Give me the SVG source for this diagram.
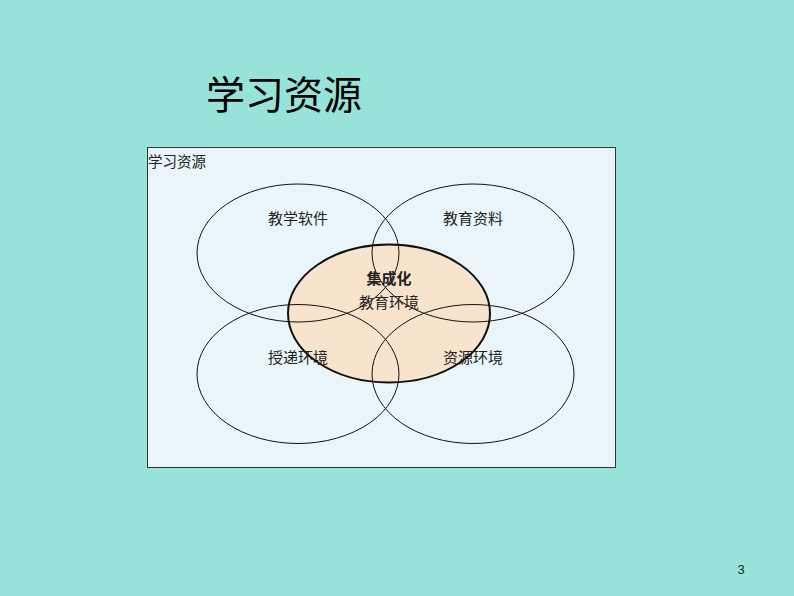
<svg xmlns="http://www.w3.org/2000/svg" width="794" height="596" viewBox="0 0 794 596">
<style>
.lbl{font-family:"Liberation Serif","Noto Sans CJK SC",serif;font-size:15px;fill:#222;text-anchor:middle}
.ring{fill:none;stroke:#111;stroke-width:1}
</style>
<rect x="0" y="0" width="794" height="596" fill="#97E3D9"/>
<text x="206" y="109" font-family="'Noto Sans CJK SC',sans-serif" font-size="39" fill="#000">学习资源</text>
<g id="frame">
<rect x="147.5" y="147.5" width="468" height="320" fill="#E9F5F8" stroke="#333" stroke-width="1"/>
<text x="148" y="167" font-family="'Liberation Serif','Noto Sans CJK SC',serif" font-size="14.5" fill="#222">学习资源</text>
</g>
<g id="center-fill">
<ellipse cx="389" cy="313.5" rx="101" ry="69" fill="#F8E3CC"/>
</g>
<g id="connectors"></g>
<g id="n-software"><ellipse class="ring" cx="298" cy="253" rx="101" ry="69"/><text class="lbl" x="298" y="224">教学软件</text></g>
<g id="n-materials"><ellipse class="ring" cx="473" cy="253" rx="101" ry="69"/><text class="lbl" x="473" y="224">教育资料</text></g>
<g id="n-delivery"><ellipse class="ring" cx="298" cy="374" rx="101" ry="69.5"/><text class="lbl" x="298" y="363">授递环境</text></g>
<g id="n-resource"><ellipse class="ring" cx="473" cy="374" rx="101" ry="69.5"/><text class="lbl" x="473" y="363">资源环境</text></g>
<g id="n-center">
<ellipse cx="389" cy="313.5" rx="101" ry="69" fill="none" stroke="#111" stroke-width="2"/>
<text class="lbl" x="389" y="284" font-weight="bold">集成化</text>
<text class="lbl" x="389" y="308">教育环境</text>
</g>
<text x="741" y="574" font-family="'Liberation Sans',sans-serif" font-size="13" fill="#222" text-anchor="middle">3</text>
</svg>
